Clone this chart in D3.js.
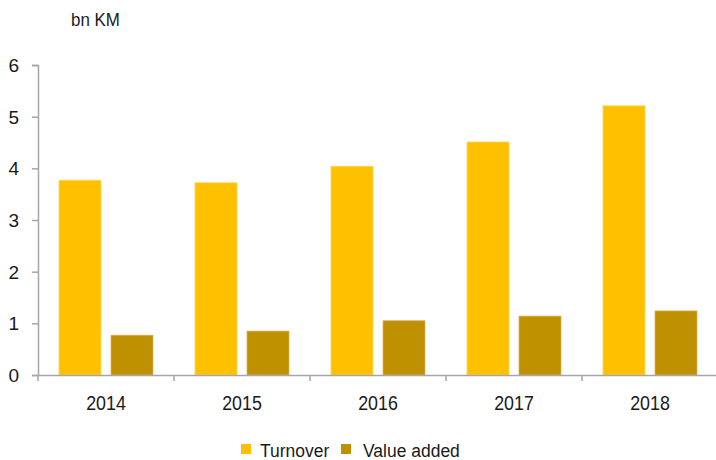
<!DOCTYPE html>
<html>
<head>
<meta charset="utf-8">
<script src="https://cdn.jsdelivr.net/npm/d3@7/dist/d3.min.js"></script>
<style>
  html, body { margin: 0; padding: 0; background: #fff; }
  svg text { font-family: "Liberation Sans", Arial, sans-serif; fill: #1a1a1a; }
</style>
</head>
<body>
<svg id="chart" width="716" height="460"></svg>
<script>
// Data
const years = ["2014", "2015", "2016", "2017", "2018"];
const seriesNames = ["Turnover", "Value added"];
const turnover = [3.77, 3.72, 4.04, 4.51, 5.21];
const valueAdded = [0.77, 0.85, 1.05, 1.14, 1.24];
const yTicks = [0, 1, 2, 3, 4, 5, 6];
const unitLabel = "bn KM";

const colors = { "Turnover": "#FFC000", "Value added": "#BF9000" };
const strokes = { "Turnover": "#FFD757", "Value added": "#D4B45A" };

const svg = d3.select("#chart");
const axisColor = "#A6A6A6";

const x = d3.scaleBand().domain(years).range([38, 718]).paddingInner(0).paddingOuter(0);
const xs = d3.scaleBand().domain(seriesNames).range([21, 115]).paddingInner(0.1923).paddingOuter(0);
const y = d3.scaleLinear().domain([0, 6]).range([375, 65]);

const rows = years.map((yr, i) => ({ year: yr, values: [
  { name: "Turnover", v: turnover[i] },
  { name: "Value added", v: valueAdded[i] }
]}));

// Bars
const groups = svg.append("g").selectAll("g").data(rows).join("g")
  .attr("transform", d => `translate(${x(d.year)},0)`);
groups.selectAll("rect").data(d => d.values).join("rect")
  .attr("x", d => xs(d.name))
  .attr("width", xs.bandwidth())
  .attr("y", d => y(d.v))
  .attr("height", d => y(0) - y(d.v))
  .attr("fill", d => colors[d.name])
  .attr("stroke", d => strokes[d.name])
  .attr("stroke-width", 0.8);

// Y axis
const yAxis = svg.append("g").attr("transform", "translate(38,0)")
  .call(d3.axisLeft(y).tickValues(yTicks).tickSize(6).tickPadding(13).tickFormat(d3.format("d")));
yAxis.select(".domain").attr("stroke", axisColor).attr("stroke-width", 1.5);
yAxis.selectAll(".tick line").attr("stroke", axisColor).attr("stroke-width", 1.5);
yAxis.selectAll(".tick text").attr("font-size", 19).attr("dy", "0.35em");

// X axis (year labels are drawn slightly condensed)
const xAxis = svg.append("g").attr("transform", "translate(0,375)")
  .call(d3.axisBottom(x).tickSize(0).tickPadding(20).tickSizeOuter(0));
xAxis.select(".domain").attr("stroke", axisColor).attr("stroke-width", 1.5);
xAxis.selectAll(".tick text").attr("font-size", 21).attr("transform", "scale(0.85,1)");
// category boundary ticks
svg.append("g").selectAll("line").data(years).join("line")
  .attr("x1", d => x(d)).attr("x2", d => x(d))
  .attr("y1", 375).attr("y2", 381)
  .attr("stroke", axisColor).attr("stroke-width", 1.5);

// Unit label
svg.append("text").attr("transform", "translate(71,26) scale(0.94,1)")
  .attr("font-size", 18).text(unitLabel);

// Legend
const legendPos = [{ sx: 241, tx: 260 }, { sx: 341, tx: 363 }];
const legend = svg.append("g").selectAll("g").data(seriesNames).join("g");
legend.append("rect")
  .attr("x", (d, i) => legendPos[i].sx).attr("y", 444)
  .attr("width", 10).attr("height", 10)
  .attr("fill", d => colors[d]);
legend.append("text")
  .attr("transform", (d, i) => `translate(${legendPos[i].tx},457) scale(0.92,1)`)
  .attr("font-size", 19).text(d => d);
</script>
</body>
</html>
